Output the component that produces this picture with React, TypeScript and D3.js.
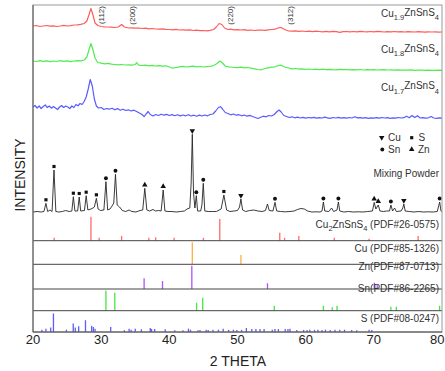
import * as d3 from 'd3';

// 2θ tick labels
const thetaTicks = [20, 30, 40, 50, 60, 70, 80];

// Cu1.9ZnSnS4 trace [2θ, intensity a.u.]
const cu19: [number, number][] = [
  [20, 7], [20.5, 7.5], [21, 6.5], [21.5, 7], [22, 7.5], [22.5, 6.8], [23, 7.2], [23.5, 6.5], [24, 7], [24.5, 7.6],
  [25, 7], [25.5, 7.3], [26, 8], [26.5, 8.2], [27, 8.6], [27.5, 9.5], [27.9, 12], [28.2, 18], [28.5, 24.5], [28.8, 18],
  [29.1, 10], [29.5, 7.5], [30, 6.5], [30.5, 6.2], [31, 6], [31.5, 5.8], [32, 5.5], [32.5, 6], [33, 8.5], [33.4, 6],
  [34, 5], [34.5, 5.2], [35, 4.8], [35.5, 5], [36, 4.5], [36.5, 4.8], [37, 4.2], [37.5, 4.5], [38, 4], [38.5, 3.8],
  [39, 4.2], [39.5, 3.6], [40, 3.5], [40.5, 3.2], [41, 3.6], [41.5, 3], [42, 3.2], [42.5, 2.8], [43, 3.2], [43.5, 2.5],
  [44, 2.8], [44.5, 2.4], [45, 2.5], [45.5, 2.2], [46, 2.6], [46.5, 3.5], [46.9, 6], [47.3, 9.5], [47.7, 8.5], [48.1, 5],
  [48.6, 3.5], [49, 3.8], [49.5, 3.2], [50, 3.4], [50.5, 3], [51, 3.3], [51.5, 2.7], [52, 3], [52.5, 2.5], [53, 2.8],
  [53.5, 3], [54, 2.6], [54.5, 3.2], [55, 3.5], [55.5, 3.8], [56, 5.2], [56.4, 5.5], [56.9, 3.5], [57.5, 2], [58, 1.8],
  [58.5, 2.2], [59, 1.6], [59.5, 2], [60, 1.5], [60.5, 1.9], [61, 1.4], [61.5, 1.8], [62, 1.5], [62.5, 1.1], [63, 1.6],
  [63.5, 1.2], [64, 1.7], [64.5, 1.3], [65, 0.6], [65.5, 1.4], [66, 1.5], [66.5, 1.1], [67, 1.5], [67.5, 1.2], [68, 1.6],
  [68.5, 1.3], [69, 1.1], [69.5, 1.5], [70, 1.2], [70.5, 1.6], [71, 1.3], [71.5, 1], [72, 1.4], [72.5, 1.2], [73, 1.5],
  [73.5, 1.1], [74, 1.3], [74.5, 1], [75, 1.4], [75.5, 1.2], [76, 1], [76.5, 1.3], [77, 1.1], [77.5, 0.9], [78, 1.2],
  [78.5, 1], [79, 1.1], [79.5, 0.9], [80, 1],
];

// Cu1.8ZnSnS4 trace
const cu18: [number, number][] = [
  [20, 10], [20.5, 9.5], [21, 10.3], [21.5, 9.6], [22, 10.2], [22.5, 9.4], [23, 10], [23.5, 9.5], [24, 10.4], [24.5, 9.7],
  [25, 10.1], [25.5, 9.4], [26, 10], [26.5, 10.4], [27, 10.2], [27.5, 11], [27.9, 14], [28.2, 21], [28.5, 27.5], [28.8, 21],
  [29.1, 13], [29.5, 8.5], [30, 7.8], [30.5, 7.2], [31, 7.6], [31.5, 6.8], [32, 6.5], [32.5, 6.2], [33, 6.5], [33.5, 6],
  [34, 6.2], [34.5, 5.8], [35, 6.5], [35.2, 8.5], [35.5, 5.8], [36, 5.5], [36.5, 5.9], [37, 5.2], [37.5, 5.6], [38, 5],
  [38.5, 5.4], [39, 4.8], [39.5, 5.2], [40, 4], [40.5, 2.8], [41, 3.5], [41.5, 4.2], [42, 4.6], [42.5, 4], [43, 4.4],
  [43.5, 4.8], [44, 4.2], [44.5, 4.5], [45, 4], [45.5, 4.3], [46, 4.6], [46.5, 5.5], [47, 7.5], [47.4, 10], [47.8, 8],
  [48.2, 5], [48.7, 4.2], [49, 4], [49.5, 3.5], [50, 3.3], [50.5, 3.8], [51, 3.2], [51.5, 3.5], [52, 2.8], [52.5, 2.2],
  [53, 1.5], [53.5, 1.2], [54, 2.5], [54.5, 3.2], [55, 3.8], [55.5, 4.2], [56, 5.5], [56.4, 5.8], [56.9, 4], [57.5, 3],
  [58, 2.2], [58.5, 2.5], [59, 1.8], [59.5, 2.1], [60, 1.6], [60.5, 2], [61, 1.5], [61.5, 1.9], [62, 1.4], [62.5, 1.8],
  [63, 1.3], [63.5, 1.7], [64, 1.4], [64.5, 1.2], [65, 1.6], [65.5, 1.3], [66, 1.5], [66.5, 1.1], [67, 1.4], [67.5, 1.2],
  [68, 1.5], [68.5, 1], [69, 1.3], [69.5, 1.1], [70, 1.4], [70.5, 1], [71, 1.2], [71.5, 1.4], [72, 1], [72.5, 1.2],
  [73, 0.9], [73.5, 1.1], [74, 0.8], [74.5, 1], [75, 0.9], [75.5, 1.1], [76, 0.7], [76.5, 0.9], [77, 0.8], [77.5, 0.6],
  [78, 0.8], [78.5, 0.7], [79, 0.6], [79.5, 0.8], [80, 0.6],
];

// Cu1.7ZnSnS4 trace
const cu17: [number, number][] = [
  [20, 12], [20.3, 13.5], [20.6, 11], [20.9, 13], [21.2, 10.5], [21.5, 12.5], [21.8, 14], [22.1, 11.5], [22.4, 13], [22.7, 10.8],
  [23, 12.5], [23.3, 11], [23.6, 9.5], [23.9, 12], [24.2, 13.5], [24.5, 11.5], [24.8, 13], [25.1, 12], [25.4, 10.5], [25.7, 13],
  [26, 11.5], [26.3, 14.5], [26.6, 13.2], [26.9, 15.5], [27.2, 14.5], [27.5, 17.5], [27.8, 22], [28.1, 30], [28.4, 39.5], [28.7, 33],
  [29, 20], [29.3, 13], [29.6, 11], [30, 11.5], [30.4, 9.5], [30.8, 10.5], [31.2, 9.8], [31.6, 10.8], [32, 9.2], [32.4, 10.4],
  [32.8, 8.8], [33.2, 9.8], [33.6, 8.5], [34, 9.2], [34.4, 8], [34.8, 8.8], [35.2, 7.5], [35.6, 6], [36, 4.5], [36.3, 2.3],
  [36.6, 5], [36.9, 7.5], [37.2, 4.5], [37.6, 3], [38, 4.5], [38.4, 3.5], [38.8, 4.8], [39.2, 3.8], [39.6, 4.6], [40, 3.5],
  [40.4, 4.4], [40.8, 3.3], [41.2, 4.2], [41.6, 3.1], [42, 4], [42.4, 3.2], [42.8, 4.3], [43.2, 3], [43.6, 3.8], [44, 2.8],
  [44.4, 3.9], [44.8, 3], [45.2, 4], [45.6, 3.2], [46, 4.5], [46.4, 5], [46.8, 8], [47.2, 11.5], [47.5, 12.3], [47.8, 10],
  [48.2, 6.5], [48.6, 5.5], [49, 4.2], [49.4, 5], [49.8, 3.8], [50.2, 4.3], [50.6, 3.2], [51, 4], [51.4, 2.8], [51.8, 3.6],
  [52.2, 2.5], [52.6, 1.5], [53, 0.5], [53.4, 1.8], [53.8, 2.8], [54.2, 2.2], [54.6, 3.5], [55, 3], [55.4, 4.5], [55.8, 7.5],
  [56.1, 9], [56.4, 7], [56.8, 3.5], [57.2, 2.5], [57.6, 1.5], [58, 2.2], [58.4, 1.2], [58.8, 1.8], [59.2, 1], [59.6, 1.6],
  [60, 0.8], [60.4, 1.5], [60.8, 1.1], [61.2, 1.7], [61.6, 0.9], [62, 1.4], [62.4, 1], [62.8, 1.8], [63.2, 1.2], [63.6, 0.7],
  [64, 1.5], [64.4, 1], [64.8, 1.6], [65.2, 0.8], [65.6, 1.3], [66, 0.9], [66.4, 1.5], [66.8, 1], [67.2, 2.2], [67.6, 1.1],
  [68, 1.4], [68.4, 0.8], [68.8, 1.3], [69.2, 0.7], [69.6, 1.2], [70, 0.9], [70.4, 1.4], [70.8, 0.8], [71.2, 1.5], [71.6, 1],
  [72, 1.3], [72.4, 0.7], [72.8, 1.2], [73.2, 0.9], [73.6, 1.5], [74, 1], [74.4, 1.3], [74.8, 2.8], [75.2, 1.2], [75.6, 3.5],
  [76, 1.5], [76.4, 3.2], [76.8, 1], [77.2, 1.4], [77.6, 0.8], [78, 1.2], [78.4, 2.5], [78.8, 1], [79.2, 0.6], [79.6, 1.2],
  [80, 0.8],
];

// Mixing powder trace
const mixing: [number, number][] = [
  [20, 1], [20.6, 1.5], [21.2, 1], [21.6, 1.5], [21.9, 9.7], [22.15, 1.5], [22.5, 3], [22.8, 1.5], [23.08, 43], [23.35, 1.5],
  [23.8, 1], [24.3, 1.5], [24.8, 2.5], [25.3, 1.5], [25.7, 2], [25.92, 16.3], [26.15, 2], [26.55, 2], [26.78, 16], [27, 2],
  [27.55, 2.5], [27.8, 17.3], [28.05, 3], [28.5, 4], [28.8, 5], [29, 6], [29.3, 14.7], [29.55, 4], [29.9, 2.5], [30.4, 3],
  [30.7, 31.3], [30.95, 3], [31.3, 4], [31.6, 7], [31.85, 10], [32.1, 38.7], [32.35, 8], [32.7, 6], [33.1, 2.5], [33.6, 1.5],
  [34.1, 3], [34.5, 1.5], [35.1, 1], [35.7, 2.5], [36.1, 3], [36.4, 24.7], [36.7, 3], [37.1, 2], [37.6, 3.5], [38, 2],
  [38.4, 2.5], [38.8, 2], [39.1, 23], [39.35, 2], [39.8, 1.5], [40.4, 1.5], [41, 1], [41.6, 1.5], [42.2, 2], [42.6, 4],
  [43, 5], [43.2, 30], [43.37, 78.7], [43.55, 20], [43.75, 5], [43.96, 17.3], [44.15, 2], [44.6, 2], [44.78, 8], [44.98, 29.7],
  [45.2, 2], [45.7, 1.5], [46.3, 1.5], [46.9, 1.5], [47.6, 4], [48, 18], [48.4, 3], [48.9, 1.5], [49.5, 2], [50, 2.5],
  [50.3, 6], [50.5, 14], [50.75, 3], [51.2, 1.5], [51.8, 2.5], [52.4, 3], [53, 2], [53.6, 1.5], [54.1, 2.5], [54.4, 9],
  [54.65, 2.5], [55.2, 2], [55.5, 10.7], [55.75, 2], [56.3, 1.5], [57, 1.2], [57.7, 1.5], [58.3, 2], [58.8, 3.5], [59.3, 4.5],
  [59.8, 4], [60.3, 2], [60.9, 1], [61.5, 1.2], [62.1, 1], [62.4, 2], [62.6, 11], [62.8, 2], [63.4, 1.5], [63.8, 5],
  [64.1, 1.5], [64.6, 3], [64.8, 11], [65, 2], [65.6, 1], [66.3, 1.5], [67, 1], [67.7, 1.2], [68.4, 1], [69.1, 1.5],
  [69.8, 2], [70.05, 10.5], [70.3, 4], [70.65, 8], [70.9, 2], [71.4, 1.5], [71.9, 2], [72.3, 2], [72.5, 8], [72.75, 2],
  [73.05, 5], [73.3, 1.5], [74, 2], [74.25, 5], [74.4, 9], [74.6, 2], [75.2, 1.5], [75.9, 1], [76.6, 1.5], [77.3, 1],
  [78, 1.2], [78.7, 1], [79.3, 1.5], [79.66, 11], [79.85, 2], [80, 1.5],
];

// phase markers on the mixing powder peaks [2θ, peak intensity, phase]
const mixMarkers: [number, number, string][] = [
  [21.9, 9.7, 'S'], [23.08, 43, 'S'], [25.92, 16.3, 'S'], [26.78, 16, 'S'], [27.8, 17.3, 'S'], [29.3, 14.7, 'S'],
  [30.7, 31.3, 'Sn'], [32.1, 38.7, 'Sn'], [36.4, 24.7, 'Zn'], [39.1, 23, 'Zn'], [43.37, 78.7, 'Cu'], [43.96, 17.3, 'Sn'],
  [44.98, 29.7, 'Sn'], [48, 18, 'S'], [50.5, 14, 'Cu'], [55.5, 10.7, 'Sn'], [62.6, 11, 'Sn'], [64.8, 11, 'Sn'],
  [70.05, 10.5, 'Zn'], [70.65, 8, 'Zn'], [72.5, 8, 'Sn'], [74.4, 9, 'Cu'], [79.66, 11, 'Sn'],
];

// reference cards: 2θ and relative intensity (%)
const cztsTheta = [23.1, 28.5, 29.7, 33.0, 37.0, 38.0, 40.7, 45.0, 47.4, 56.2, 56.9, 59.0, 64.2, 69.3, 76.5];
const cztsInt = [12, 100, 12, 20, 12, 14, 12, 12, 90, 33, 12, 20, 12, 8, 20];
const cuTheta = [43.37, 50.5, 74.2];
const cuInt = [100, 42, 16];
const znTheta = [36.3, 39.0, 43.3, 54.4, 70.07, 70.5];
const znInt = [45, 33, 97, 24, 26, 16];
const snTheta = [30.7, 32.0, 44.0, 44.9, 55.4, 62.6, 63.9, 64.6, 72.5, 73.3, 79.65];
const snInt = [92, 83, 37, 60, 23, 23, 16, 23, 18, 18, 23];
const sTheta = [
  21.3, 21.9, 22.6, 23.0, 24.9, 25.9, 26.2, 26.7, 27.7, 28.6, 28.85, 29.1, 31.4, 33.4, 34.1, 34.4, 35.0, 35.9, 37.2, 37.4,
  37.85, 39.4, 40.8, 42.0, 42.8, 43.1, 44.2, 44.5, 45.4, 45.7, 46.4, 47.2, 47.9, 48.7, 49.4, 49.9, 50.6, 51.3, 52.1, 52.7,
  53.3, 53.9, 55.1, 55.5, 56.0, 57.0, 57.4, 57.7, 58.7, 59.7, 60.2, 60.6, 61.3, 61.8, 62.4, 62.9, 63.6, 64.3, 65.0, 65.7,
  66.75, 67.5, 69.3, 69.7,
];
const sInt = [
  11, 16, 21, 88, 11, 40, 21, 27, 56, 29, 24, 16, 24, 8, 16, 11, 16, 13, 19, 14,
  14, 13, 8, 8, 16, 11, 8, 10, 11, 10, 11, 11, 16, 10, 11, 10, 10, 19, 14, 14,
  14, 14, 11, 14, 14, 14, 14, 16, 10, 10, 10, 11, 10, 11, 10, 11, 10, 11, 11, 11,
  10, 8, 11, 10,
];

// hkl labels of the kesterite peaks
const hklTheta = [28.5, 33.0, 47.4, 56.2];
const hklLabels = ['(112)', '(200)', '(220)', '(312)'];

const W = 445;
const H = 371;
const margin = { top: 5, right: 3, bottom: 39, left: 33 };
const FONT = '"Liberation Sans", Arial, Helvetica, sans-serif';
const TXT = '#333';

export default function App() {
  const x = d3.scaleLinear().domain([20, 80]).range([margin.left, W - margin.right]);
  const bottom = H - margin.bottom;
  // intensity scale for the stacked traces (1 a.u. ~ 1 px)
  const y = d3.scaleLinear().domain([0, bottom - margin.top]).range([bottom, margin.top]);

  const traces = [
    { data: cu19, offset: 299, color: '#ff5c5c', width: 1.2 },
    { data: cu18, offset: 261, color: '#4eec4e', width: 1.2 },
    { data: cu17, offset: 213, color: '#5a5aff', width: 1.2 },
    { data: mixing, offset: 119, color: '#262626', width: 0.9 },
  ];

  // reference stick panels
  const panels = [
    { theta: cztsTheta, ints: cztsInt, bottom: 240.7, h: 24, color: '#ff6a6a' },
    { theta: cuTheta, ints: cuInt, bottom: 264.3, h: 22, color: '#ffae4a' },
    { theta: znTheta, ints: znInt, bottom: 289, h: 24, color: '#b150ff' },
    { theta: snTheta, ints: snInt, bottom: 310.7, h: 21.7, color: '#42e842' },
    { theta: sTheta, ints: sInt, bottom: bottom, h: 21, color: '#5c5cff' },
  ];

  const sym = (phase: string) => {
    if (phase === 'Cu' || phase === 'Zn') return d3.symbol().type(d3.symbolTriangle).size(13)();
    if (phase === 'S') return d3.symbol().type(d3.symbolSquare).size(10)();
    return d3.symbol().type(d3.symbolCircle).size(12)();
  };
  const rot = (phase: string) => (phase === 'Cu' ? ' rotate(180)' : '');

  const mixOffset = 119;

  return (
    <svg width={W} height={H} style={{ position: 'absolute', left: 0, top: 0, background: '#fff', fontFamily: FONT }}>
      {/* traces */}
      {traces.map((t, i) => {
        const line = d3.line<[number, number]>()
          .x(d => x(d[0]))
          .y(d => y(t.offset + d[1]));
        return <path key={i} d={line(t.data) || ''} fill="none" stroke={t.color} strokeWidth={t.width} strokeLinejoin="round" />;
      })}

      {/* phase markers */}
      {mixMarkers.map((m, i) => (
        <path key={i} d={sym(m[2]) || ''} fill="#111"
          transform={`translate(${x(m[0])},${y(mixOffset + m[1]) - 3.5})${rot(m[2])}`} />
      ))}

      {/* reference sticks */}
      {panels.map((p, pi) => {
        const s = d3.scaleLinear().domain([0, 100]).range([p.bottom, p.bottom - p.h]);
        return (
          <g key={pi}>
            {p.theta.map((th, i) => (
              <line key={i} x1={x(th)} x2={x(th)} y1={s(0)} y2={s(p.ints[i])} stroke={p.color} strokeWidth={1.3} />
            ))}
          </g>
        );
      })}

      {/* panel separators */}
      {panels.slice(0, 4).map((p, i) => (
        <line key={i} x1={margin.left} x2={W - margin.right} y1={p.bottom} y2={p.bottom} stroke="#444" strokeWidth={1} />
      ))}

      {/* frame */}
      <rect x={margin.left} y={margin.top} width={W - margin.right - margin.left} height={bottom - margin.top}
        fill="none" stroke="#9a9a9a" strokeWidth={1} />
      <line x1={margin.left} x2={margin.left} y1={margin.top} y2={bottom} stroke="#555" strokeWidth={1} />
      <line x1={margin.left} x2={W - margin.right} y1={bottom} y2={bottom} stroke="#444" strokeWidth={1} />

      {/* hkl labels */}
      {hklTheta.map((th, i) => (
        <text key={i} transform={`translate(${x(th) + 13.5},6) rotate(-90)`} textAnchor="end"
          fontSize={8} fill={TXT} fontFamily={FONT}>
          {hklLabels[i]}
        </text>
      ))}

      {/* sample labels */}
      {[
        { sub: '1.9', yy: 17.3 },
        { sub: '1.8', yy: 53.3 },
        { sub: '1.7', yy: 90.7 },
      ].map((l, i) => (
        <text key={i} x={439} y={l.yy} textAnchor="end" fontSize={10} fill={TXT} fontFamily={FONT}>
          Cu<tspan fontSize={7.5} dy={3}>{l.sub}</tspan>
          <tspan dy={-4.5}>ZnSnS</tspan>
          <tspan fontSize={7.5} dy={4.5}>4</tspan>
        </text>
      ))}

      {/* legend for phases */}
      <g fontSize={10} fill={TXT} fontFamily={FONT}>
        <path d={sym('Cu') || ''} fill="#111" transform="translate(381.7,137.7) rotate(180)" />
        <text x={388} y={141.3}>Cu</text>
        <path d={sym('S') || ''} fill="#111" transform="translate(411.7,137.7)" />
        <text x={418.5} y={141.3}>S</text>
        <path d={sym('Sn') || ''} fill="#111" transform="translate(382.3,149.5)" />
        <text x={388} y={153}>Sn</text>
        <path d={sym('Zn') || ''} fill="#111" transform="translate(411.7,149.3)" />
        <text x={418} y={153}>Zn</text>
        <text x={439} y={176.7} textAnchor="end">Mixing Powder</text>
      </g>

      {/* card labels */}
      <g fontSize={10} fill={TXT} textAnchor="end" fontFamily={FONT}>
        <text x={439} y={228.3}>
          Cu<tspan fontSize={7.5} dy={3}>2</tspan><tspan dy={-3}>ZnSnS</tspan><tspan fontSize={7.5} dy={3}>4</tspan>
          <tspan dy={-3}> (PDF#26-0575)</tspan>
        </text>
        <text x={439} y={251.7}>Cu (PDF#85-1326)</text>
        <text x={439} y={270}>Zn(PDF#87-0713)</text>
        <text x={439} y={292.3}>Sn(PDF#86-2265)</text>
        <text x={439} y={321.7}>S (PDF#08-0247)</text>
      </g>

      {/* x tick labels (last one kept inside the window) */}
      {thetaTicks.map((t, i) => {
        const last = i === thetaTicks.length - 1;
        return (
          <text key={t} x={last ? W - 0.5 : x(t)} y={343.5} textAnchor={last ? 'end' : 'middle'}
            fontSize={13} fill="#222" fontFamily={FONT}>{t}</text>
        );
      })}
      <text x={(margin.left + W - margin.right) / 2 + 0.5} y={366} textAnchor="middle" fontSize={14} fill="#222" fontFamily={FONT}>2 THETA</text>
      <text transform={`translate(24.5,${175}) rotate(-90)`} textAnchor="middle" fontSize={14} fill="#222" fontFamily={FONT}>INTENSITY</text>
    </svg>
  );
}
